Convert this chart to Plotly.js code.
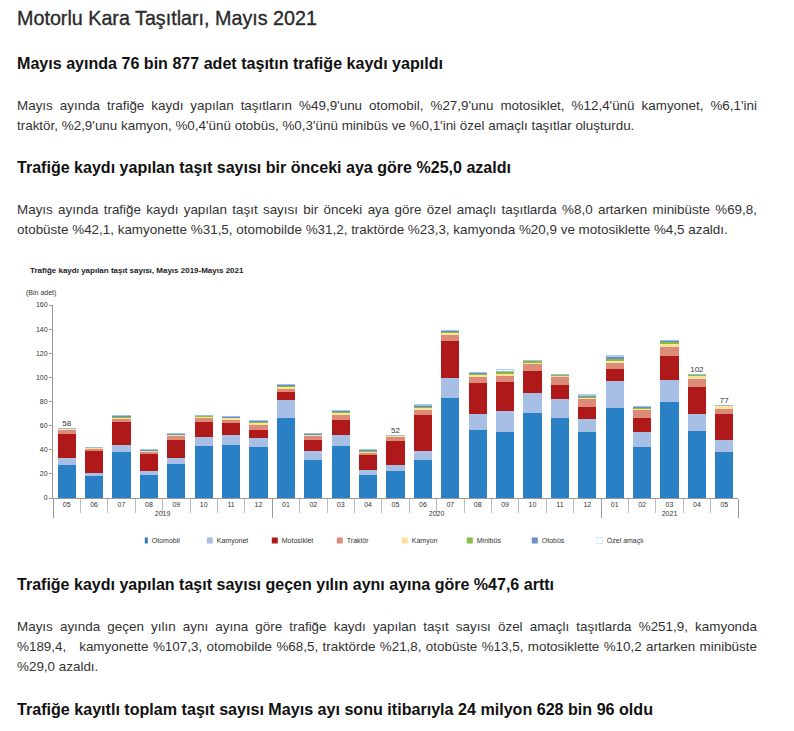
<!DOCTYPE html>
<html>
<head>
<meta charset="utf-8">
<script src="https://cdn.plot.ly/plotly-3.0.1.min.js"></script>
<style>
  html, body { margin: 0; padding: 0; background: #fff; }
  body { width: 794px; height: 731px; position: relative; overflow: hidden;
         font-family: "Liberation Sans", Arial, sans-serif; color: #222; }
  .t { position: absolute; left: 17px; white-space: nowrap; transform-origin: 0 0; }
  .h1 { font-size: 21px; line-height: 24px; color: #2a2a2a; -webkit-text-stroke: 0.35px #2a2a2a; }
  .h2 { font-size: 17px; font-weight: bold; line-height: 20px; color: #111; }
  .p { position: absolute; left: 17px; font-size: 13px; line-height: 20px; color: #333;
       white-space: nowrap; transform-origin: 0 0; text-align: left; }
  .p.jl { text-align: justify; text-align-last: justify; white-space: normal; }
  .meas { position: absolute; left: -5000px; top: 0; white-space: nowrap; }
  #chart { position: absolute; left: 20px; top: 258px; width: 735px; height: 340px; }
  #chart .legendpoints path { transform-box: fill-box; transform-origin: center; transform: scale(0.5); }
  #chart .legendtext { transform: translateX(-33px); }
</style>
</head>
<body>
<div class="t h1" style="top:6px;" data-w="300">Motorlu Kara Taşıtları, Mayıs 2021</div>
<div class="t h2" style="top:54px;" data-w="426">Mayıs ayında 76 bin 877 adet taşıtın trafiğe kaydı yapıldı</div>
<div class="p jl" style="top:96px;">Mayıs ayında trafiğe kaydı yapılan taşıtların %49,9'unu otomobil, %27,9'unu motosiklet, %12,4'ünü kamyonet, %6,1'ini</div>
<div class="p" style="top:116px;" data-lw="618">traktör, %2,9'unu kamyon, %0,4'ünü otobüs, %0,3'ünü minibüs ve %0,1'ini özel amaçlı taşıtlar oluşturdu.</div>
<div class="t h2" style="top:158px;" data-w="494">Trafiğe kaydı yapılan taşıt sayısı bir önceki aya göre %25,0 azaldı</div>
<div class="p jl" style="top:200px;">Mayıs ayında trafiğe kaydı yapılan taşıt sayısı bir önceki aya göre özel amaçlı taşıtlarda %8,0 artarken minibüste %69,8,</div>
<div class="p" style="top:220px;" data-lw="710">otobüste %42,1, kamyonette %31,5, otomobilde %31,2, traktörde %23,3, kamyonda %20,9 ve motosiklette %4,5 azaldı.</div>
<div id="chart"></div>
<div class="t h2" style="top:575px;" data-w="537">Trafiğe kaydı yapılan taşıt sayısı geçen yılın aynı ayına göre %47,6 arttı</div>
<div class="p jl" style="top:617px;">Mayıs ayında geçen yılın aynı ayına göre trafiğe kaydı yapılan taşıt sayısı özel amaçlı taşıtlarda %251,9, kamyonda</div>
<div class="p jl" style="top:637px;">%189,4, &nbsp; kamyonette %107,3, otomobilde %68,5, traktörde %21,8, otobüste %13,5, motosiklette %10,2 artarken minibüste</div>
<div class="p" style="top:657px;">%29,0 azaldı.</div>
<div class="t h2" style="top:700px;" data-w="636">Trafiğe kayıtlı toplam taşıt sayısı Mayıs ayı sonu itibarıyla 24 milyon 628 bin 96 oldu</div>

<script>
const years  = ["2019","2019","2019","2019","2019","2019","2019","2019",
                "2020","2020","2020","2020","2020","2020","2020","2020","2020","2020","2020","2020",
                "2021","2021","2021","2021","2021"];
const months = ["05","06","07","08","09","10","11","12",
                "01","02","03","04","05","06","07","08","09","10","11","12",
                "01","02","03","04","05"];

const otomobil   = [27.2,18.3,38.1,19.2,28.6,43.3,43.9,41.9,66.1,31.7,43.3,19.4,22.8,31.1,82.8,56.7,54.4,70.6,66.7,54.4,74.4,42.5,79.7,55.8,38.4];
const kamyonet   = [6.3,2.5,6.1,3.3,4.7,7.5,8.0,7.8,15.3,7.5,9.2,4.2,4.6,8.1,16.9,13.3,17.8,16.1,15.5,11.2,22.3,11.9,18.4,13.9,9.5];
const motosiklet = [19.7,17.8,18.9,13.9,14.5,12.0,10.0,7.0,6.4,8.6,12.5,11.7,19.5,29.4,30.6,25.6,24.2,18.6,11.4,10.2,10.0,12.3,19.7,22.5,21.5];
const traktor    = [2.8,2.0,2.5,1.9,3.3,3.3,3.1,4.1,2.8,3.3,4.2,2.2,3.9,4.7,5.0,4.4,4.7,5.5,6.4,5.9,5.5,6.1,7.8,6.1,4.7];
const kamyon     = [0.8,0.5,1.1,0.6,0.8,1.1,1.1,1.1,1.3,0.8,1.4,0.8,0.8,1.7,1.4,1.7,2.0,1.4,1.1,1.4,1.7,1.4,2.2,2.8,2.2];
const minibus    = [0.4,0.4,0.5,0.3,0.6,0.6,0.6,0.9,1.2,0.6,0.8,0.6,0.3,0.6,1.1,0.8,1.1,1.4,0.8,0.8,1.1,0.8,1.4,0.8,0.2];
const otobus     = [0.6,0.6,0.9,0.9,0.8,0.6,1.1,1.1,1.3,1.1,1.1,1.1,0.3,1.1,1.1,1.4,0.8,0.6,0.6,0.8,2.2,1.1,1.4,0.5,0.3];
const ozel       = [0.1,0.1,0.1,0.1,0.1,0.1,0.1,0.1,0.1,0.1,0.1,0.1,0.02,0.5,0.1,0.1,1.5,0.1,0.1,0.9,0.8,0.1,0.1,0.07,0.08];

const totalLabels = ["58","","","","","","","","","","","","52","","","","","","","","","","","102","77"];

const seriesNames  = ["Otomobil","Kamyonet","Motosiklet","Traktör","Kamyon","Minibüs","Otobüs","Özel amaçlı"];
const seriesValues = [otomobil,kamyonet,motosiklet,traktor,kamyon,minibus,otobus,ozel];
const seriesColors = ["#2a80c5","#a7bfe4","#b0191a","#dd8b79","#fce39b","#8bba40","#6a8fc7","#ffffff"];
const seriesLines  = ["#2a80c5","#a7bfe4","#b0191a","#dd8b79","#fce39b","#8bba40","#6a8fc7","#9cc3e6"];

// Plotly orders multicategory sub-labels by first appearance; the 2019 month
// labels get an invisible zero-width suffix so the later years keep 01..12 order.
const monthKeys = months.map((m, i) => years[i] === "2019" ? m + "\u200b" : m);
const x = [years, monthKeys];

const traces = seriesNames.map((n, i) => ({
  type: "bar", name: n, x: x, y: seriesValues[i],
  marker: { color: seriesColors[i], line: { color: seriesLines[i], width: i === 7 ? 0.8 : 0 } },
  hoverinfo: "skip"
}));

const totals = otomobil.map((_, k) => seriesValues.reduce((s, arr) => s + arr[k], 0));
traces.push({
  type: "scatter", mode: "text", x: x, y: totals, text: totalLabels,
  textposition: "top center", textfont: { size: 8, color: "#333", family: "Liberation Sans, Arial" },
  showlegend: false, hoverinfo: "skip"
});

const layout = {
  width: 735, height: 340,
  margin: { l: 33, r: 17, t: 47, b: 100 },
  barmode: "stack", bargap: 0.34,
  paper_bgcolor: "rgba(0,0,0,0)", plot_bgcolor: "rgba(0,0,0,0)",
  font: { family: "Liberation Sans, Arial, sans-serif", size: 7, color: "#333" },
  title: { text: "<b>Trafiğe kaydı yapılan taşıt sayısı, Mayıs 2019-Mayıs 2021</b>",
           font: { size: 8, color: "#222" }, xref: "container", yref: "container",
           x: 10/735, xanchor: "left", y: 1 - 12/340, yanchor: "middle" },
  xaxis: {
    type: "multicategory", range: [-0.5, months.length - 0.5], autorange: false,
    showline: true, linecolor: "#999", linewidth: 1,
    ticks: "outside", ticklen: 14, tickcolor: "#bbb",
    showdividers: true, dividercolor: "#999", dividerwidth: 1,
    tickfont: { size: 7, color: "#333" }, showgrid: false, zeroline: false
  },
  yaxis: {
    range: [0, 160], dtick: 20, showline: true, linecolor: "#999", linewidth: 1,
    ticks: "outside", ticklen: 3, tickcolor: "#999", showgrid: false, zeroline: false,
    tickfont: { size: 7, color: "#333" }
  },
  annotations: [{
    text: "(Bin adet)", xref: "paper", yref: "paper", x: -0.043, y: 1.062,
    xanchor: "left", yanchor: "middle", showarrow: false, font: { size: 7, color: "#333" }
  }],
  legend: {
    orientation: "h", x: 0.134, xanchor: "left", y: -0.145, yanchor: "top",
    entrywidth: 20, entrywidthmode: "pixels", itemwidth: 30,
    font: { size: 7, color: "#333" }, traceorder: "normal",
    bgcolor: "rgba(0,0,0,0)"
  },
  showlegend: true
};

Plotly.newPlot("chart", traces, layout, { displayModeBar: false, staticPlot: true });

// Fit the page text to the reference's (narrow) line widths.
function measure(text, cls) {
  const s = document.createElement("span");
  s.className = cls + " meas";
  s.textContent = text;
  document.body.appendChild(s);
  const w = s.getBoundingClientRect().width;
  s.remove();
  return w;
}
document.querySelectorAll(".t").forEach(el => {
  const target = +el.dataset.w;
  const w = el.getBoundingClientRect().width;
  el.style.transform = "scaleX(" + (target / w) + ")";
});
const refLines = Array.from(document.querySelectorAll(".p[data-lw]"));
const k = refLines.reduce((s, el) => s + (+el.dataset.lw) / measure(el.textContent, "p"), 0) / refLines.length;
document.querySelectorAll(".p").forEach(el => {
  el.style.width = (740 / k) + "px";
  el.style.transform = "scaleX(" + k + ")";
});
</script>
</body>
</html>
